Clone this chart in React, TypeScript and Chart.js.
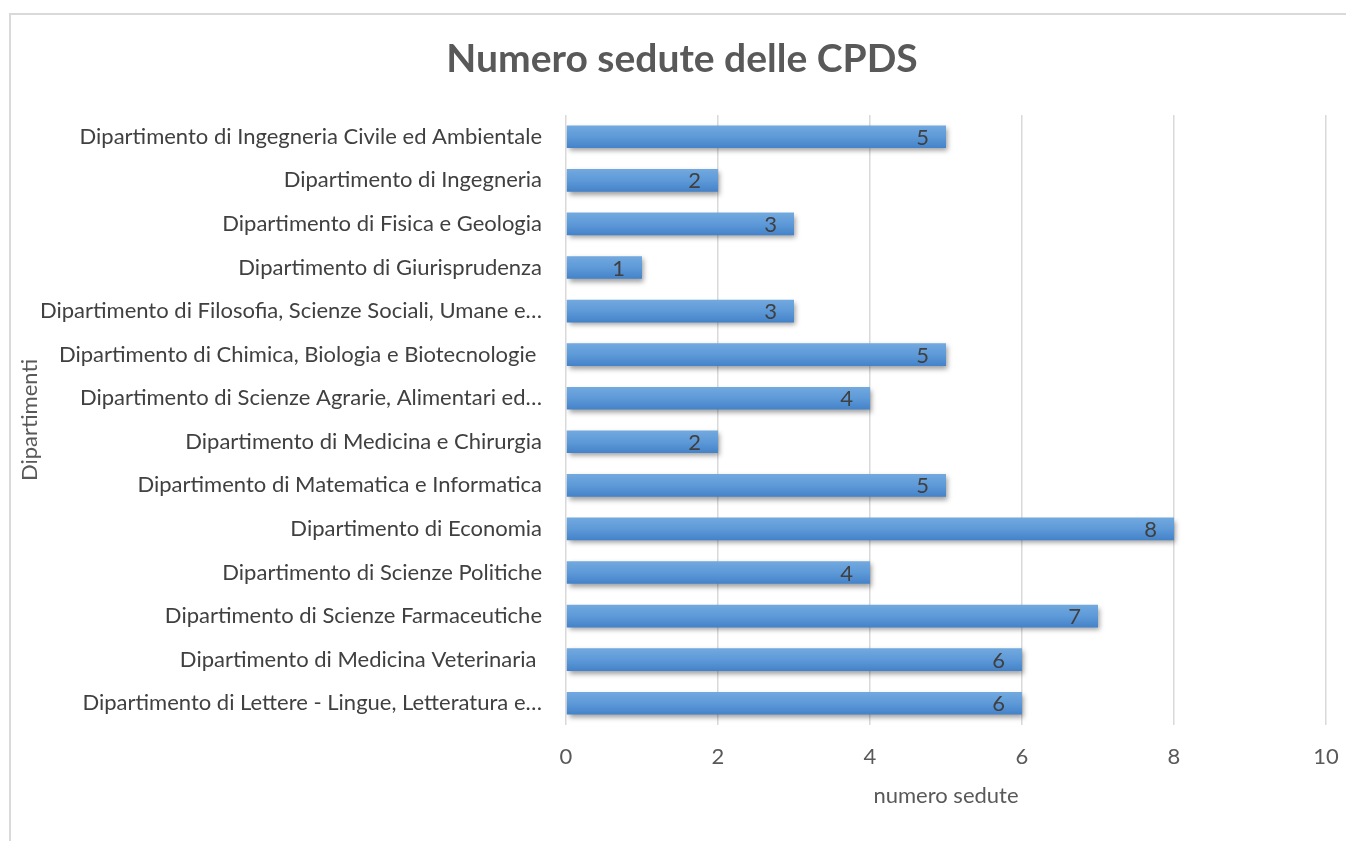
import React, { useEffect, useRef } from "react";
import { Chart, registerables } from "chart.js";

Chart.register(...registerables);

const TITLE = "Numero sedute delle CPDS";
const X_TITLE = "numero sedute";
const Y_TITLE = "Dipartimenti";

const categories = [
  "Dipartimento di Ingegneria Civile ed Ambientale",
  "Dipartimento di Ingegneria",
  "Dipartimento di Fisica e Geologia",
  "Dipartimento di Giurisprudenza",
  "Dipartimento di Filosofia, Scienze Sociali, Umane e…",
  "Dipartimento di Chimica, Biologia e Biotecnologie ",
  "Dipartimento di Scienze Agrarie, Alimentari ed…",
  "Dipartimento di Medicina e Chirurgia",
  "Dipartimento di Matematica e Informatica",
  "Dipartimento di Economia",
  "Dipartimento di Scienze Politiche",
  "Dipartimento di Scienze Farmaceutiche",
  "Dipartimento di Medicina Veterinaria ",
  "Dipartimento di Lettere - Lingue, Letteratura e…",
];

const sedute = [5, 2, 3, 1, 3, 5, 4, 2, 5, 8, 4, 7, 6, 6];

const xTicks = [0, 2, 4, 6, 8, 10];

const FONT = "Lato, 'Open Sans', sans-serif";
const TEXT = "#595959";
const FS = 22;
const BAR_PCT = 0.52;

const titlePlugin = {
  id: "customTitle",
  afterDraw(chart: any) {
    const ctx = chart.ctx;
    ctx.save();
    ctx.font = `bold 39px ${FONT}`;
    ctx.fillStyle = TEXT;
    ctx.textAlign = "center";
    ctx.textBaseline = "middle";
    ctx.fillText(TITLE, 682, 59);
    ctx.restore();
  },
};

const shadowPlugin = {
  id: "barShadow",
  beforeDatasetsDraw(chart: any) {
    const ctx = chart.ctx;
    ctx.save();
    ctx.shadowColor = "rgba(0,0,0,0.38)";
    ctx.shadowBlur = 5;
    ctx.shadowOffsetX = 2;
    ctx.shadowOffsetY = 3;
  },
  afterDatasetsDraw(chart: any) {
    chart.ctx.restore();
  },
};

const labelPlugin = {
  id: "barLabels",
  afterDatasetsDraw(chart: any) {
    const ctx = chart.ctx;
    const meta = chart.getDatasetMeta(0);
    ctx.save();
    ctx.font = `${FS}px ${FONT}`;
    ctx.fillStyle = "#404040";
    ctx.textAlign = "right";
    ctx.textBaseline = "middle";
    meta.data.forEach((el: any, i: number) => {
      ctx.fillText(String(sedute[i]), el.x - 17, el.y + 1);
    });
    ctx.restore();
  },
};

export default function App() {
  const ref = useRef<HTMLCanvasElement | null>(null);

  useEffect(() => {
    document.body.style.margin = "0";
    const canvas = ref.current!;
    const chart = new Chart(canvas, {
      type: "bar",
      data: {
        labels: categories,
        datasets: [
          {
            data: sedute,
            backgroundColor: (c: any) => {
              const chartObj = c.chart;
              const ys = chartObj.scales && chartObj.scales.y;
              if (!chartObj.chartArea || !ys || c.dataIndex === undefined) return "#5b9bd5";
              const y = ys.getPixelForValue(c.dataIndex);
              const h = (ys.height / categories.length) * BAR_PCT;
              if (!isFinite(y) || !isFinite(h)) return "#5b9bd5";
              const g = chartObj.ctx.createLinearGradient(0, y - h / 2, 0, y + h / 2);
              g.addColorStop(0, "#72a9df");
              g.addColorStop(0.5, "#5e9ad8");
              g.addColorStop(1, "#4482c9");
              return g;
            },
            borderWidth: 0,
            barPercentage: BAR_PCT,
            categoryPercentage: 1,
          },
        ],
      },
      options: {
        indexAxis: "y",
        animation: false,
        responsive: false,
        maintainAspectRatio: false,
        layout: { padding: { left: 10, right: 20, top: 115, bottom: 32 } },
        plugins: {
          legend: { display: false },
          tooltip: { enabled: false },
          title: { display: false },
        },
        scales: {
          x: {
            min: 0,
            max: 10,
            afterBuildTicks: (s: any) => {
              s.ticks = xTicks.map((v) => ({ value: v }));
            },
            grid: { color: "#d9d9d9", lineWidth: 1.5, drawTicks: false },
            border: { display: false },
            ticks: {
              color: TEXT,
              font: { family: FONT, size: FS },
              padding: 19,
              maxRotation: 0,
            },
            title: {
              display: true,
              text: X_TITLE,
              color: TEXT,
              font: { family: FONT, size: FS },
              padding: { top: 12, bottom: 0 },
            },
            afterFit: (s: any) => {
              s.height = 841 - 32 - 725;
              s.paddingLeft = 0;
              s.paddingRight = 0;
            },
          },
          y: {
            grid: { display: false, drawTicks: false },
            border: { display: false },
            ticks: {
              color: "#404040",
              font: { family: FONT, size: FS },
              padding: 24,
              autoSkip: false,
            },
            title: {
              display: true,
              text: Y_TITLE,
              color: TEXT,
              font: { family: FONT, size: FS },
              padding: { top: 7, bottom: 0 },
            },
            afterFit: (s: any) => {
              s.width = 566 - 10;
              s.paddingTop = 0;
              s.paddingBottom = 0;
            },
          },
        },
      },
      plugins: [shadowPlugin, labelPlugin, titlePlugin],
    } as any);
    return () => chart.destroy();
  }, []);

  return (
    <div style={{ position: "absolute", left: 0, top: 0, width: 1346, height: 841, overflow: "hidden", background: "#fff" }}>
      <div
        style={{
          position: "absolute",
          left: 9,
          top: 13,
          width: 1400,
          height: 900,
          border: "2px solid #d9d9d9",
        }}
      />
      <canvas ref={ref} width={1346} height={841} style={{ position: "absolute", left: 0, top: 0 }} />
    </div>
  );
}
